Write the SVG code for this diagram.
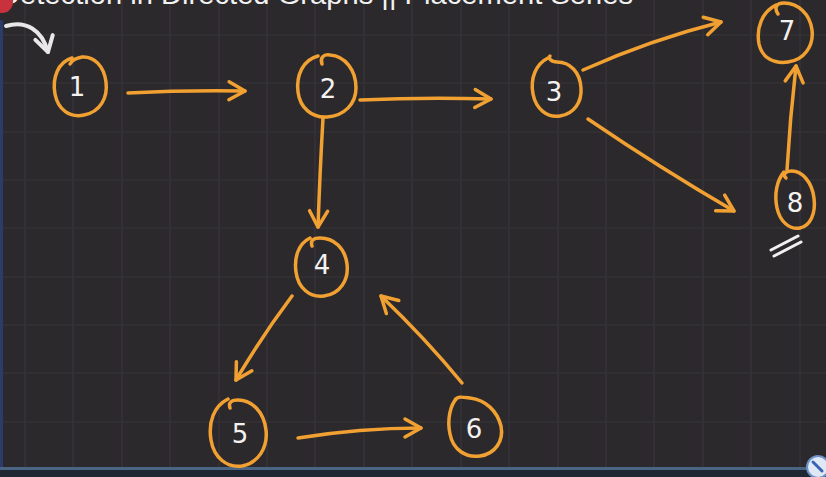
<svg xmlns="http://www.w3.org/2000/svg" width="826" height="477" viewBox="0 0 826 477">
<defs>
<style>
.bg{fill:#2c292d}
.grid{stroke:#353236;stroke-width:1.6}
.node{fill:none;stroke:#f1a032;stroke-width:3.5;stroke-linecap:round}
.lbl{fill:#f4f2f0;font-family:"DejaVu Sans","Liberation Sans",sans-serif;font-size:26px;text-anchor:middle}
.edge{fill:none;stroke:#f1a032;stroke-width:3.5;stroke-linecap:round;marker-end:url(#ah)}
.title{fill:#f2f2f2;font-family:"Liberation Sans",Arial,sans-serif;font-size:27px}
</style>
<marker id="ah" markerUnits="userSpaceOnUse" viewBox="0 0 24 24" refX="21" refY="12" markerWidth="24" markerHeight="24" orient="auto">
<path d="M5,3 L21,12 L5,21" fill="none" stroke="#f1a032" stroke-width="3.5" stroke-linecap="round" stroke-linejoin="round"/>
</marker>
<marker id="wh" markerUnits="userSpaceOnUse" viewBox="0 0 24 24" refX="20" refY="12" markerWidth="24" markerHeight="24" orient="auto">
<path d="M5,3 L20,12 L5,21" fill="none" stroke="#e8e8e8" stroke-width="4" stroke-linecap="round" stroke-linejoin="round"/>
</marker>
</defs>
<rect class="bg" x="0" y="0" width="826" height="477"/>
<g id="grid" class="grid">
<line x1="25" y1="0" x2="25" y2="468"/><line x1="73" y1="0" x2="73" y2="468"/><line x1="122" y1="0" x2="122" y2="468"/><line x1="170" y1="0" x2="170" y2="468"/><line x1="219" y1="0" x2="219" y2="468"/><line x1="267" y1="0" x2="267" y2="468"/><line x1="315" y1="0" x2="315" y2="468"/><line x1="364" y1="0" x2="364" y2="468"/><line x1="412" y1="0" x2="412" y2="468"/><line x1="461" y1="0" x2="461" y2="468"/><line x1="509" y1="0" x2="509" y2="468"/><line x1="558" y1="0" x2="558" y2="468"/><line x1="606" y1="0" x2="606" y2="468"/><line x1="654" y1="0" x2="654" y2="468"/><line x1="703" y1="0" x2="703" y2="468"/><line x1="751" y1="0" x2="751" y2="468"/><line x1="800" y1="0" x2="800" y2="468"/>
<line x1="0" y1="35" x2="826" y2="35"/><line x1="0" y1="83" x2="826" y2="83"/><line x1="0" y1="132" x2="826" y2="132"/><line x1="0" y1="180" x2="826" y2="180"/><line x1="0" y1="228" x2="826" y2="228"/><line x1="0" y1="277" x2="826" y2="277"/><line x1="0" y1="325" x2="826" y2="325"/><line x1="0" y1="373" x2="826" y2="373"/><line x1="0" y1="422" x2="826" y2="422"/>
</g>
<g id="chrome">
<text class="title" x="-1" y="4" textLength="634" lengthAdjust="spacingAndGlyphs">Detection in Directed Graphs || Placement Series</text>
<circle cx="2" cy="2" r="11" fill="#c8323c"/>
<rect x="0" y="20" width="3" height="450" fill="#2a3d6a"/>
<rect x="0" y="467" width="826" height="3" fill="#4a6484"/>
<rect x="0" y="470" width="826" height="7" fill="#1f2733"/>
<circle cx="818" cy="467" r="11" fill="#dfe8f5" stroke="#6d8fc8" stroke-width="2"/>
<path d="M813,462 L822,471" stroke="#3a62b0" stroke-width="3" stroke-linecap="round"/>
</g>
<g id="start-arrow">
<path d="M6,26 C26,20 42,30 48,52" fill="none" stroke="#e8e8e8" stroke-width="4" stroke-linecap="round" marker-end="url(#wh)"/>
</g>
<g id="connectors">
<path class="edge" d="M128,93 Q185,90 245,91"/>
<path class="edge" d="M360,100 Q425,97 491,99"/>
<path class="edge" d="M323,118 Q320,170 318,227"/>
<path class="edge" d="M583,70 Q650,40 721,22"/>
<path class="edge" d="M588,119 Q660,168 734,211"/>
<path class="edge" d="M787,170 Q790,118 796,66"/>
<path class="edge" d="M292,296 Q262,336 236,380"/>
<path class="edge" d="M298,438 Q360,428 421,428"/>
<path class="edge" d="M462,383 Q425,338 381,296"/>
</g>
<g id="node1"><path class="node" d="M72,58 C58,62 52,78 55,94 C58,110 70,118 84,115 C100,112 108,98 106,82 C104,66 94,56 82,57 C76,58 72,60 70,64"/><text class="lbl" x="77" y="96">1</text></g>
<g id="node2"><path class="node" d="M318,56 C303,60 296,75 298,92 C300,108 312,118 327,117 C344,116 356,104 356,88 C356,70 345,56 330,55 C323,54 320,58 322,64"/><text class="lbl" x="328" y="98">2</text></g>
<g id="node3"><path class="node" d="M548,58 C536,64 530,78 533,94 C536,109 547,118 560,116 C574,114 582,102 581,88 C580,72 570,62 557,62 C551,62 548,58 550,56"/><text class="lbl" x="554" y="101">3</text></g>
<g id="node4"><path class="node" d="M310,238 C298,244 294,258 296,272 C298,288 310,298 324,296 C340,294 349,280 347,264 C345,248 334,238 320,238 C314,238 310,240 312,246"/><text class="lbl" x="322" y="274">4</text></g>
<g id="node5"><path class="node" d="M228,399 C214,406 208,422 211,440 C214,458 227,468 242,466 C258,463 268,448 266,430 C264,412 252,400 238,400 C232,400 228,402 230,408"/><text class="lbl" x="240" y="443">5</text></g>
<g id="node6"><path class="node" d="M457,398 C450,405 447,420 450,434 C453,450 466,458 480,456 C495,454 504,441 501,426 C497,411 486,400 470,398 C462,397 457,396 455,400"/><text class="lbl" x="474" y="438">6</text></g>
<g id="node7"><path class="node" d="M776,5 C762,12 756,28 759,44 C762,58 774,64 788,62 C804,60 814,46 812,30 C810,14 798,3 784,3 C776,3 774,8 778,14"/><text class="lbl" x="787" y="40">7</text></g>
<g id="node8"><path class="node" d="M784,172 C777,180 774,194 777,208 C780,222 790,230 800,228 C810,226 816,214 814,198 C812,182 802,171 792,171 C786,171 782,174 786,178"/><text class="lbl" x="795" y="212">8</text></g>
<g id="mark8"><path d="M771,250 L798,236 M774,256 L801,242" stroke="#f0f0f0" stroke-width="3" stroke-linecap="round" fill="none"/></g>
</svg>
